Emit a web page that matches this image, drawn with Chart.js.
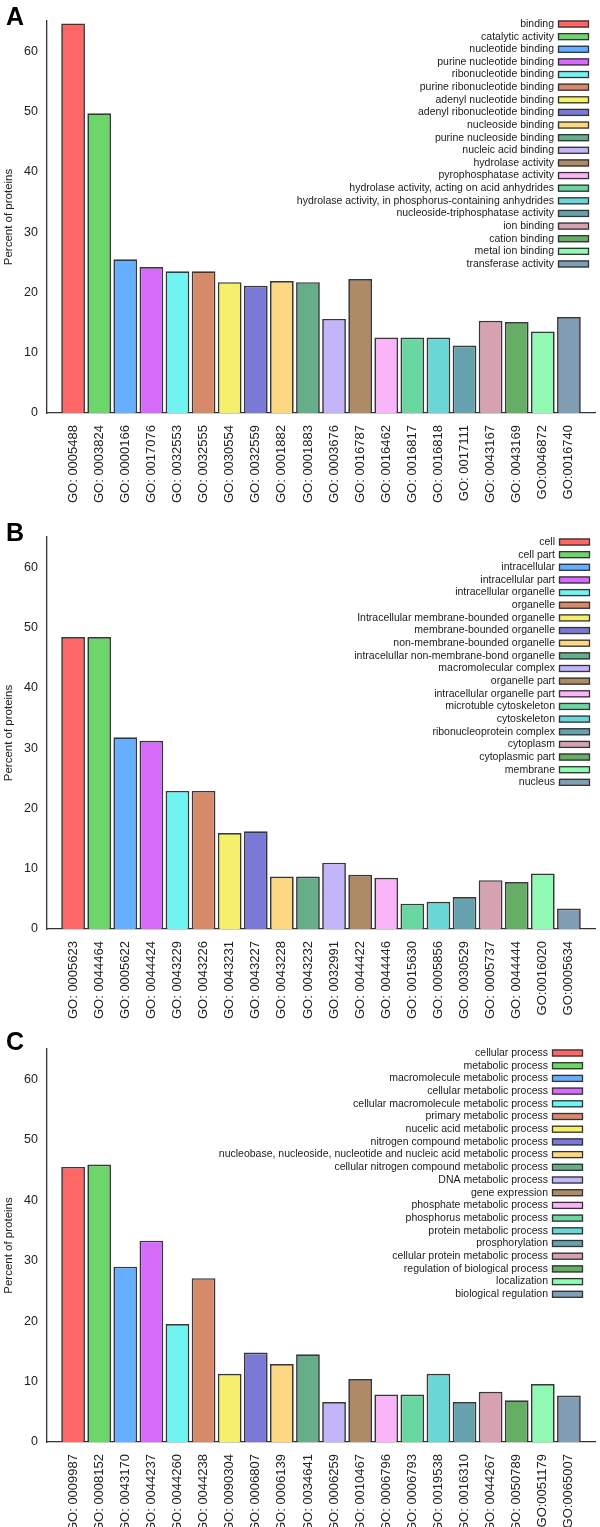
<!DOCTYPE html>
<html>
<head>
<meta charset="utf-8">
<script src="https://cdn.jsdelivr.net/npm/chart.js@4.4.1/dist/chart.umd.min.js"></script>
<style>
    html, body { margin: 0; padding: 0; overflow: hidden; background: #fff; }
    .panel { position: absolute; left: 0; width: 600px; height: 516px; }
    .letter { position: absolute; left: 6px; font: bold 25px "Liberation Sans", Arial, sans-serif; line-height: 1; color: #000; }
</style>
</head>
<body>
<div class="panel" style="top:0px"><canvas id="chartA" width="600" height="516"></canvas></div>
<div class="panel" style="top:516px"><canvas id="chartB" width="600" height="516"></canvas></div>
<div class="panel" style="top:1029px"><canvas id="chartC" width="600" height="516"></canvas></div>
<div class="letter" style="top:4px">A</div>
<div class="letter" style="top:520px">B</div>
<div class="letter" style="top:1029px">C</div>
<script>
// shared bar colours (same order in all three panels)
const barColors = [
    '#ff6666', '#6cd66a', '#66aeff', '#d66bfa', '#70f4f2', '#d68a6a', '#f4f06c', '#7a7ad6', '#fdd882', '#66ae8a',
    '#c4b4fa', '#ae8a66', '#fab4fa', '#6ad6a2', '#6ad6d6', '#66a2ae', '#d6a2b2', '#66ae66', '#90fab4', '#829eb4'
];

// Panel A - molecular function
const labelsA = ['GO: 0005488', 'GO: 0003824', 'GO: 0000166', 'GO: 0017076', 'GO: 0032553', 'GO: 0032555', 'GO: 0030554',
    'GO: 0032559', 'GO: 0001882', 'GO: 0001883', 'GO: 0003676', 'GO: 0016787', 'GO: 0016462', 'GO: 0016817',
    'GO: 0016818', 'GO: 0017111', 'GO: 0043167', 'GO: 0043169', 'GO:0046872', 'GO:0016740'];
const namesA = ['binding', 'catalytic activity', 'nucleotide binding', 'purine nucleotide binding', 'ribonucleotide binding',
    'purine ribonucleotide binding', 'adenyl nucleotide binding', 'adenyl ribonucleotide binding', 'nucleoside binding',
    'purine nucleoside binding', 'nucleic acid binding', 'hydrolase activity', 'pyrophosphatase activity',
    'hydrolase activity, acting on acid anhydrides', 'hydrolase activity, in phosphorus-containing anhydrides',
    'nucleoside-triphosphatase activity', 'ion binding', 'cation binding', 'metal ion binding', 'transferase activity'];
const valuesA = [64.6, 49.7, 25.5, 24.2, 23.5, 23.5, 21.7, 21.1, 21.9, 21.7, 15.6, 22.2, 12.5, 12.5, 12.5, 11.2, 15.3, 15.1, 13.5, 15.9];

// Panel B - cellular component
const labelsB = ['GO: 0005623', 'GO: 0044464', 'GO: 0005622', 'GO: 0044424', 'GO: 0043229', 'GO: 0043226', 'GO: 0043231',
    'GO: 0043227', 'GO: 0043228', 'GO: 0043232', 'GO: 0032991', 'GO: 0044422', 'GO: 0044446', 'GO: 0015630',
    'GO: 0005856', 'GO: 0030529', 'GO: 0005737', 'GO: 0044444', 'GO:0016020', 'GO:0005634'];
const namesB = ['cell', 'cell part', 'intracellular', 'intracellular part', 'intracellular organelle', 'organelle',
    'Intracellular membrane-bounded organelle', 'membrane-bounded organelle', 'non-membrane-bounded organelle',
    'intracelullar non-membrane-bond organelle', 'macromolecular complex', 'organelle part', 'intracellular organelle part',
    'microtuble cytoskeleton', 'cytoskeleton', 'ribonucleoprotein complex', 'cytoplasm', 'cytoplasmic part', 'membrane', 'nucleus'];
const valuesB = [48.4, 48.4, 31.8, 31.2, 22.9, 22.9, 15.9, 16.2, 8.7, 8.7, 11.0, 9.0, 8.5, 4.2, 4.5, 5.3, 8.1, 7.8, 9.2, 3.4];

// Panel C - biological process
const labelsC = ['GO: 0009987', 'GO: 0008152', 'GO: 0043170', 'GO: 0044237', 'GO: 0044260', 'GO: 0044238', 'GO: 0090304',
    'GO: 0006807', 'GO: 0006139', 'GO: 0034641', 'GO: 0006259', 'GO: 0010467', 'GO: 0006796', 'GO: 0006793',
    'GO: 0019538', 'GO: 0016310', 'GO: 0044267', 'GO: 0050789', 'GO:0051179', 'GO:0065007'];
const namesC = ['cellular process', 'metabolic process', 'macromolecule metabolic process', 'cellular metabolic process',
    'cellular macromolecule metabolic process', 'primary metabolic process', 'nucelic acid metabolic process',
    'nitrogen compound metabolic process', 'nucleobase, nucleoside, nucleotide and nucleic acid metabolic process',
    'cellular nitrogen compound metabolic process', 'DNA metabolic process', 'gene expression', 'phosphate metabolic process',
    'phosphorus metabolic process', 'protein metabolic process', 'prosphorylation', 'cellular protein metabolic process',
    'regulation of biological process', 'localization', 'biological regulation'];
const valuesC = [45.5, 45.9, 29.0, 33.3, 19.5, 27.1, 11.3, 14.8, 12.9, 14.5, 6.6, 10.4, 7.85, 7.85, 11.3, 6.6, 8.3, 6.9, 9.6, 7.7];

const yTicks = [0, 10, 20, 30, 40, 50, 60];
const fontFamily = '"Liberation Sans", Arial, sans-serif';

// legend drawn inside the plot, text right-aligned with the swatch on its right
function boxLegend(names, gapRight, gapTop, rowStep) {
    return {
        id: 'boxLegend',
        afterDraw(chart) {
            const ctx = chart.ctx;
            const area = chart.chartArea;
            const boxW = 31, boxH = 7;
            const boxLeft = area.right - gapRight - boxW;
            ctx.save();
            ctx.font = '10.5px ' + fontFamily;
            ctx.textAlign = 'right';
            ctx.textBaseline = 'middle';
            names.forEach((name, i) => {
                const y = area.top + gapTop + i * rowStep;
                ctx.fillStyle = '#1a1a1a';
                ctx.fillText(name, boxLeft - 4, y);
                ctx.fillStyle = barColors[i];
                ctx.fillRect(boxLeft, y - boxH / 2, boxW, boxH);
                ctx.strokeStyle = '#333';
                ctx.lineWidth = 1.3;
                ctx.strokeRect(boxLeft + 0.5, y - boxH / 2 + 0.5, boxW - 1, boxH - 1);
            });
            ctx.restore();
        }
    };
}

function buildChart(id, labels, values, names, topPad, legendRight, legendTop, legendStep) {
    const chartElement = document.getElementById(id);
    return new Chart(chartElement, {
        type: 'bar',
        data: {
            datasets: [{
                data: values.map((v, i) => ({ x: i, y: v })),
                backgroundColor: barColors,
                borderColor: '#383838',
                borderWidth: 1.7,
                borderSkipped: 'bottom',
                categoryPercentage: 1.0,
                barPercentage: 0.91
            }]
        },
        options: {
            responsive: false,
            animation: false,
            layout: { padding: { top: topPad, right: 5, left: 0, bottom: 0 } },
            plugins: {
                legend: { display: false },
                tooltip: { enabled: false }
            },
            scales: {
                x: {
                    type: 'linear',
                    min: -1,
                    max: 20,
                    offset: false,
                    grid: { display: false, drawTicks: false, offset: false },
                    border: { display: true, color: '#333', width: 1.3 },
                    afterBuildTicks: scale => { scale.ticks = labels.map((l, i) => ({ value: i })); },
                    afterFit: scale => { scale.height = 103; },
                    ticks: {
                        autoSkip: false,
                        maxRotation: 90,
                        minRotation: 90,
                        padding: 12,
                        color: '#222',
                        font: { size: 13, family: fontFamily },
                        callback: value => labels[value]
                    }
                },
                y: {
                    min: 0,
                    max: 65,
                    grid: { display: false, drawTicks: false },
                    border: { display: true, color: '#333', width: 1.3 },
                    afterBuildTicks: scale => { scale.ticks = yTicks.map(v => ({ value: v })); },
                    afterFit: scale => { scale.width = 47; },
                    ticks: {
                        padding: 9,
                        color: '#222',
                        font: { size: 12.5, family: fontFamily }
                    },
                    title: {
                        display: true,
                        text: 'Percent of proteins',
                        color: '#222',
                        padding: { top: 2, bottom: 0 },
                        font: { size: 11.5, family: fontFamily }
                    }
                }
            }
        },
        plugins: [boxLegend(names, legendRight, legendTop, legendStep)]
    });
}

buildChart('chartA', labelsA, valuesA, namesA, 21, 6, 3, 12.63);
buildChart('chartB', labelsB, valuesB, namesB, 21, 5, 5, 12.65);
buildChart('chartC', labelsC, valuesC, namesC, 20, 12, 4, 12.7);
</script>
</body>
</html>
